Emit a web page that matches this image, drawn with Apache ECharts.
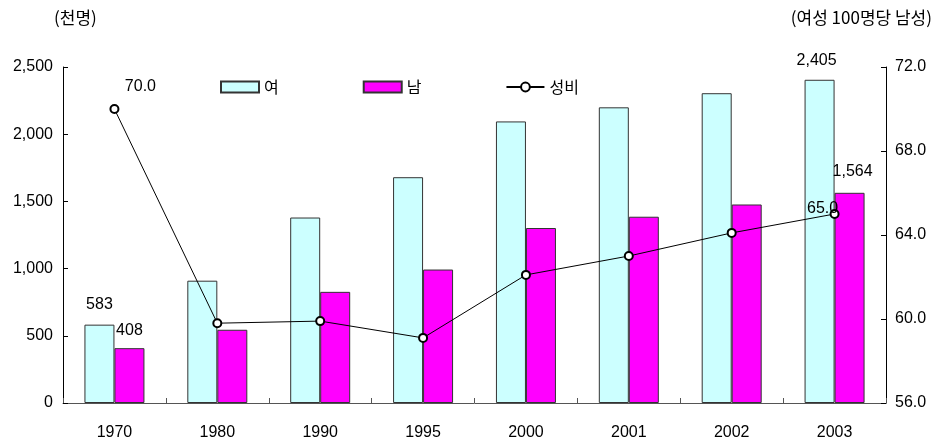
<!DOCTYPE html>
<html>
<head>
<meta charset="utf-8">
<script src="https://cdn.jsdelivr.net/npm/echarts@6/dist/echarts.min.js"></script>
<style>
  html, body { margin: 0; padding: 0; background: #fff; }
  #chart { width: 942px; height: 442px; }
</style>
</head>
<body>
<div id="chart"></div>
<script>
// Population (thousand persons) by sex and sex ratio (males per 100 females)
const years = ['1970', '1980', '1990', '1995', '2000', '2001', '2002', '2003'];
const female = [583, 910, 1380, 1680, 2095, 2200, 2305, 2405];
const male = [408, 545, 827, 993, 1302, 1386, 1477, 1564];
const sexRatio = [70.0, 59.8, 59.9, 59.1, 62.1, 63.0, 64.1, 65.0];

const seriesNames = ['여', '남', '성비'];
const leftUnit = '(천명)';
const rightUnit = '(여성 100명당 남성)';

const numFont = 'Liberation Sans, Arial, sans-serif';
const krFont = '"Noto Sans CJK KR", sans-serif';

const chart = echarts.init(document.getElementById('chart'), null, { renderer: 'canvas' });

// value labels shown only on selected points
const labelStyle = { show: true, color: '#000', fontSize: 16, fontFamily: numFont };
const withComma = p => p.value.toLocaleString('en-US');
const oneDecimal = p => p.value.toFixed(1);

const femaleData = female.map((v, i) => {
  if (i === 0) return { value: v, label: Object.assign({}, labelStyle, { position: 'top', offset: [0, -7] }) };
  if (i === years.length - 1) return { value: v, label: Object.assign({}, labelStyle, { position: 'top', offset: [-3, -6], formatter: withComma }) };
  return v;
});
const maleData = male.map((v, i) => {
  if (i === 0) return { value: v, label: Object.assign({}, labelStyle, { position: 'top', offset: [0, -5] }) };
  if (i === years.length - 1) return { value: v, label: Object.assign({}, labelStyle, { position: 'top', offset: [3, -8], formatter: withComma }) };
  return v;
});
const ratioData = sexRatio.map((v, i) => {
  if (i === 0) return { value: v, label: Object.assign({}, labelStyle, { position: 'top', offset: [26, -4], formatter: oneDecimal }) };
  if (i === years.length - 1) return { value: v, label: Object.assign({}, labelStyle, { position: 'top', offset: [-12, 13], formatter: oneDecimal }) };
  return v;
});

chart.setOption({
  animation: false,
  backgroundColor: '#fff',
  grid: { left: 63, right: 56, top: 67, bottom: 39 },
  legend: {
    left: 215, top: 74,
    itemWidth: 38, itemHeight: 11, itemGap: 84,
    textStyle: { fontSize: 16, fontFamily: krFont, color: '#000' },
    data: [
      { name: seriesNames[0], icon: 'rect' },
      { name: seriesNames[1], icon: 'rect' },
      { name: seriesNames[2] }
    ]
  },
  graphic: [
    { type: 'text', left: 54, top: 9, style: { text: leftUnit, font: '17px ' + krFont, fill: '#000' } },
    { type: 'text', right: 10, top: 9, style: { text: rightUnit, font: '17px ' + krFont, fill: '#000' } }
  ],
  xAxis: {
    type: 'category',
    data: years,
    boundaryGap: true,
    axisLine: { lineStyle: { color: '#555', width: 1 } },
    axisTick: { show: true, inside: true, length: 5, lineStyle: { color: '#555' } },
    axisLabel: { color: '#000', fontSize: 16, fontFamily: numFont, margin: 22 }
  },
  yAxis: [
    {
      type: 'value', min: 0, max: 2500, interval: 500,
      axisLine: { show: true, lineStyle: { color: '#000' } },
      axisTick: { show: true, inside: true, length: 5, lineStyle: { color: '#000' } },
      splitLine: { show: false },
      axisLabel: { color: '#000', fontSize: 16, fontFamily: numFont, margin: 10,
        formatter: v => v.toLocaleString('en-US') }
    },
    {
      type: 'value', min: 56, max: 72, interval: 4,
      axisLine: { show: true, lineStyle: { color: '#000' } },
      axisTick: { show: true, inside: true, length: 5, lineStyle: { color: '#000' } },
      splitLine: { show: false },
      axisLabel: { color: '#000', fontSize: 16, fontFamily: numFont, margin: 9,
        formatter: v => v.toFixed(1) }
    }
  ],
  series: [
    {
      name: seriesNames[0], type: 'bar', yAxisIndex: 0,
      barWidth: 30, barGap: '0%',
      itemStyle: { color: '#CCFFFF', borderColor: '#333', borderWidth: 1 },
      data: femaleData
    },
    {
      name: seriesNames[1], type: 'bar', yAxisIndex: 0,
      barWidth: 30, barGap: '0%',
      itemStyle: { color: '#FF00FF', borderColor: '#333', borderWidth: 1 },
      data: maleData
    },
    {
      name: seriesNames[2], type: 'line', yAxisIndex: 1,
      symbol: 'emptyCircle', symbolSize: 8,
      lineStyle: { color: '#000', width: 1 },
      itemStyle: { color: '#000', borderColor: '#000', borderWidth: 1 },
      z: 5,
      data: ratioData
    }
  ]
});
</script>
</body>
</html>
